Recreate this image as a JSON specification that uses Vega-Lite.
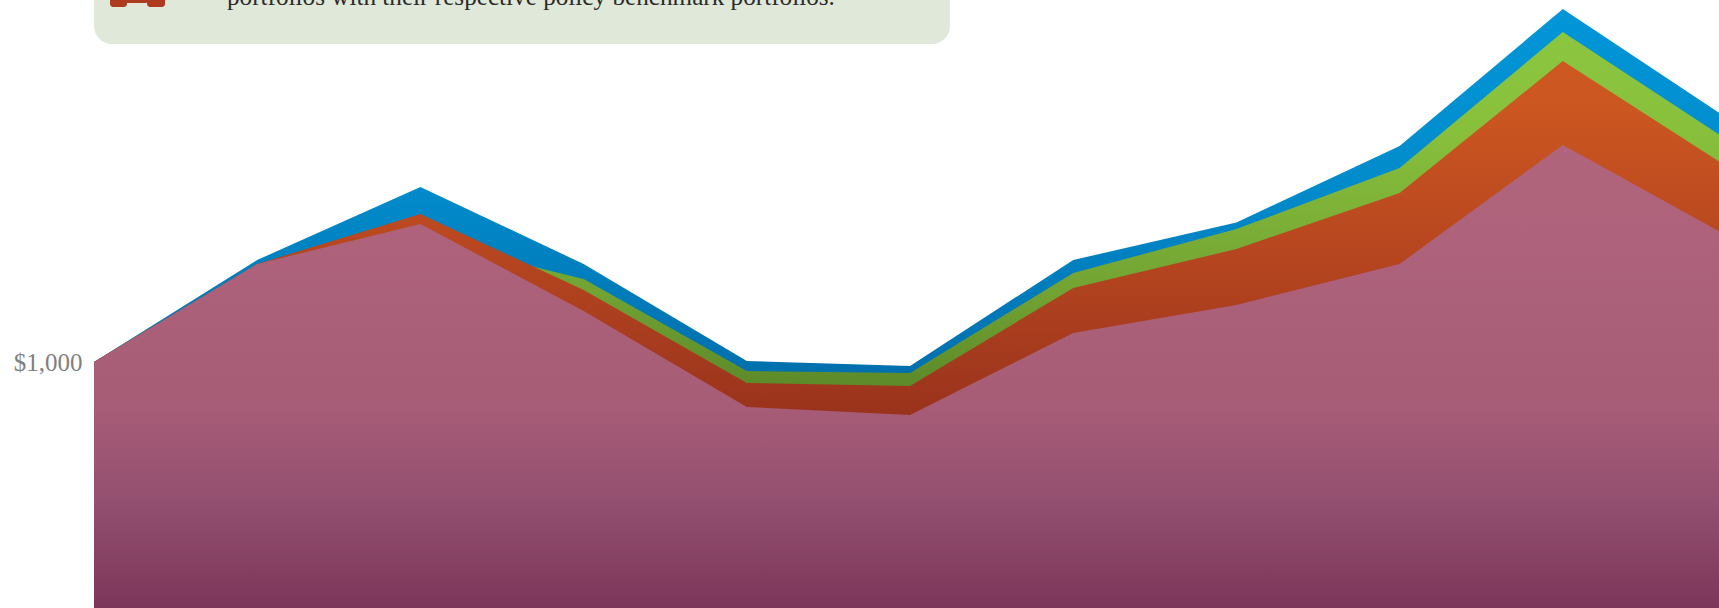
{"$schema":"https://vega.github.io/schema/vega-lite/v6.json","width":1625,"height":608,"autosize":"none","padding":{"left":94,"top":0,"right":0,"bottom":0},"background":"white","view":{"stroke":null},"datasets":{"series":[{"year":2000,"blue":1000,"green":1000,"orange":1000,"mauve":1000,"base":508},{"year":2001,"blue":1204,"green":1196,"orange":1196,"mauve":1196,"base":508},{"year":2002,"blue":1350,"green":1246,"orange":1296,"mauve":1276,"base":508},{"year":2003,"blue":1196,"green":1166,"orange":1144,"mauve":1102,"base":508},{"year":2004,"blue":1002,"green":982,"orange":958,"mauve":910,"base":508},{"year":2005,"blue":992,"green":978,"orange":952,"mauve":894,"base":508},{"year":2006,"blue":1204,"green":1178,"orange":1148,"mauve":1058,"base":508},{"year":2007,"blue":1279,"green":1266,"orange":1226,"mauve":1114,"base":508},{"year":2008,"blue":1432,"green":1388,"orange":1338,"mauve":1196,"base":508},{"year":2009,"blue":1706,"green":1660,"orange":1602,"mauve":1434,"base":508},{"year":2010,"blue":1489,"green":1446,"orange":1392,"mauve":1254,"base":508}],"panel":[{"x1":2000,"x2":2005.245,"y1":1636,"y2":1800}],"icon":[{"x1":2000.098,"x2":2000.202,"y1":1710,"y2":1800},{"x1":2000.325,"x2":2000.435,"y1":1710,"y2":1800},{"x1":2000.19,"x2":2000.335,"y1":1718,"y2":1800}],"note":[{"x":2000.815,"y":1714,"text":"portfolios with their respective policy benchmark portfolios."}]},"layer":[{"data":{"name":"panel"},"mark":{"type":"rect","clip":true,"color":"#E0E9D9","cornerRadius":18},"encoding":{"x":{"field":"x1","type":"quantitative","axis":null,"scale":{"domain":[2000,2009.957],"nice":false,"zero":false}},"x2":{"field":"x2"},"y":{"field":"y1","type":"quantitative","scale":{"domain":[508,1724],"nice":false,"zero":false},"axis":{"values":[1000],"format":"$,.0f","domain":false,"ticks":false,"grid":false,"title":null,"labelFont":"Liberation Serif","labelFontSize":25,"labelColor":"#808080","labelPadding":12}},"y2":{"field":"y2"}}},{"data":{"name":"icon"},"mark":{"type":"rect","clip":true,"color":"#AE3A20","cornerRadius":3},"encoding":{"x":{"field":"x1","type":"quantitative"},"x2":{"field":"x2"},"y":{"field":"y1","type":"quantitative"},"y2":{"field":"y2"}}},{"data":{"name":"note"},"mark":{"type":"text","align":"left","baseline":"alphabetic","font":"Liberation Serif","fontSize":25.2,"color":"#2B2B2B"},"encoding":{"x":{"field":"x","type":"quantitative"},"y":{"field":"y","type":"quantitative"},"text":{"field":"text"}}},{"data":{"name":"series"},"mark":{"type":"area","clip":true,"interpolate":"linear","color":{"gradient":"linear","x1":0,"y1":0,"x2":0,"y2":1,"stops":[{"offset":0,"color":"#0296D8"},{"offset":0.3,"color":"#028BCB"},{"offset":0.6,"color":"#0070AE"},{"offset":1,"color":"#005F90"}]}},"encoding":{"x":{"field":"year","type":"quantitative"},"y":{"field":"blue","type":"quantitative"},"y2":{"field":"base"}}},{"data":{"name":"series"},"mark":{"type":"area","clip":true,"interpolate":"linear","color":{"gradient":"linear","x1":0,"y1":0,"x2":0,"y2":1,"stops":[{"offset":0,"color":"#8CC63F"},{"offset":0.17,"color":"#88C03C"},{"offset":0.45,"color":"#72A333"},{"offset":0.6,"color":"#5E8C2A"},{"offset":1,"color":"#4A7020"}]}},"encoding":{"x":{"field":"year","type":"quantitative"},"y":{"field":"green","type":"quantitative"},"y2":{"field":"base"}}},{"data":{"name":"series"},"mark":{"type":"area","clip":true,"interpolate":"linear","color":{"gradient":"linear","x1":0,"y1":0,"x2":0,"y2":1,"stops":[{"offset":0,"color":"#CE5820"},{"offset":0.09,"color":"#CB5620"},{"offset":0.29,"color":"#BC4A20"},{"offset":0.656,"color":"#99321C"},{"offset":1,"color":"#7A2818"}]}},"encoding":{"x":{"field":"year","type":"quantitative"},"y":{"field":"orange","type":"quantitative"},"y2":{"field":"base"}}},{"data":{"name":"series"},"mark":{"type":"area","clip":true,"interpolate":"linear","color":{"gradient":"linear","x1":0,"y1":0,"x2":0,"y2":1,"stops":[{"offset":0,"color":"#B1657D"},{"offset":0.55,"color":"#A85D77"},{"offset":0.767,"color":"#945070"},{"offset":1,"color":"#7B3659"}]}},"encoding":{"x":{"field":"year","type":"quantitative"},"y":{"field":"mauve","type":"quantitative"},"y2":{"field":"base"}}}]}
